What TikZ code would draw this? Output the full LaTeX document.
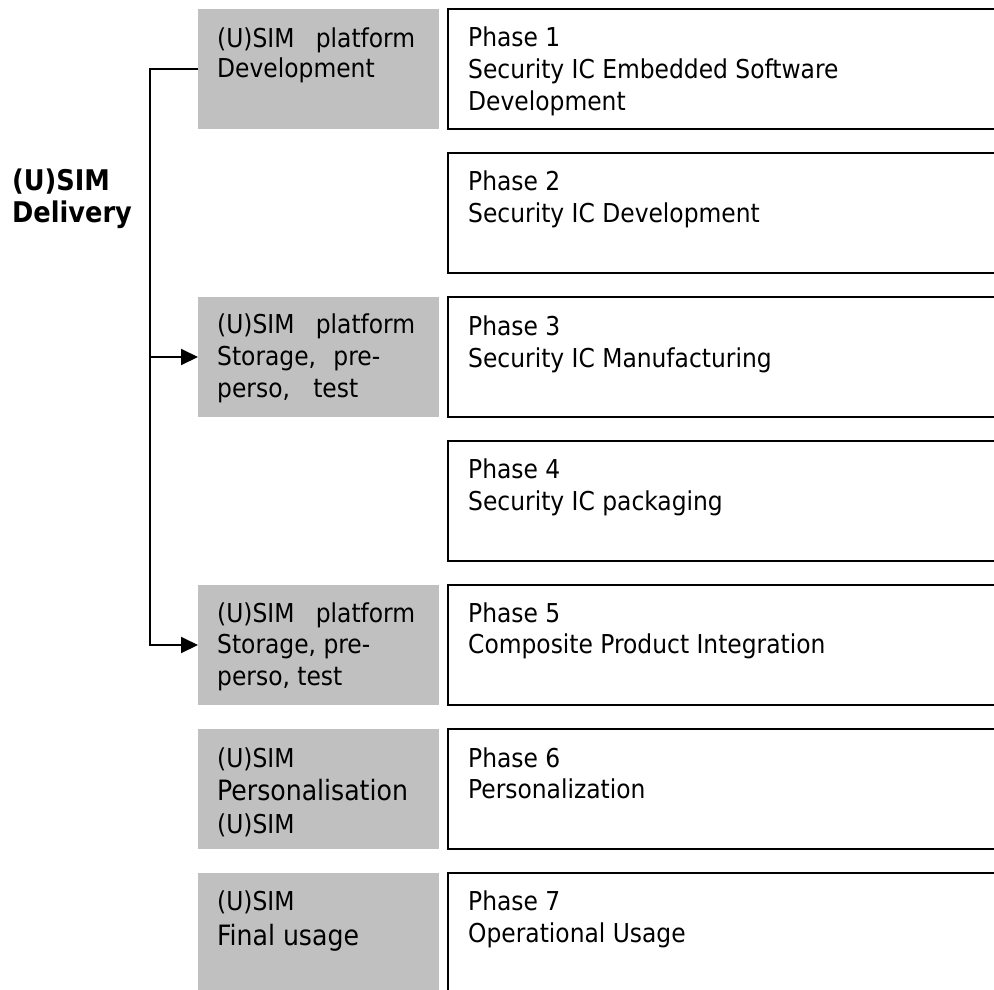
\documentclass[tikz,border=0pt]{standalone}
\usepackage{fontspec}
\setmainfont{DejaVu Sans Condensed}
\usetikzlibrary{arrows.meta}
\definecolor{boxgray}{RGB}{192,192,192}
\begin{document}
\begin{tikzpicture}[x=1pt,y=-1pt,
  graybox/.style={fill=boxgray, draw=none, minimum width=241pt, minimum height=120pt, anchor=north west, inner sep=0pt, outer sep=0pt},
  phasebox/.style={draw=black, line width=2pt, minimum width=600pt, minimum height=120pt, anchor=north west, inner sep=0pt, outer sep=0pt},
  txt/.style={anchor=base west, inner sep=0pt, font=\fontsize{26}{30}\selectfont},
  bigtxt/.style={anchor=base west, inner sep=0pt, font=\fontsize{28}{32}\selectfont},
  headtxt/.style={anchor=base west, inner sep=0pt, font=\fontsize{28.5}{32}\selectfont\bfseries},
  conn/.style={draw=black, line width=2pt},
  tip/.style={-{Triangle[length=17pt,width=16pt]}}
]
\clip (0,0) rectangle (994,989);
\fill[white] (0,0) rectangle (994,989);

% gray boxes
\node[graybox] (g1) at (198,9) {};
\node[graybox] (g3) at (198,297) {};
\node[graybox] (g5) at (198,585) {};
\node[graybox] (g6) at (198,729) {};
\node[graybox] (g7) at (198,873) {};

% phase boxes
\node[phasebox] (p1) at (448,9) {};
\node[phasebox] (p2) at (448,153) {};
\node[phasebox] (p3) at (448,297) {};
\node[phasebox] (p4) at (448,441) {};
\node[phasebox] (p5) at (448,585) {};
\node[phasebox] (p6) at (448,729) {};
\node[phasebox] (p7) at (448,873) {};

% left heading
\node[headtxt] (h1) at (12,190) {(U)SIM};
\node[headtxt] (h2) at (12,222) {Delivery};

% gray box texts
\node[txt] (g1a) at (217,47) {\makebox[198pt][s]{(U)SIM platform}};
\node[txt] (g1b) at (217,77) {Development};

\node[txt] (g3a) at (217,333) {\makebox[198pt][s]{(U)SIM platform}};
\node[txt] (g3b) at (217,365) {\makebox[163pt][s]{Storage, pre-}};
\node[txt] (g3c) at (217,397) {\makebox[141pt][s]{perso, test}};

\node[txt] (g5a) at (217,622) {\makebox[198pt][s]{(U)SIM platform}};
\node[txt] (g5b) at (217,653) {Storage, pre-};
\node[txt] (g5c) at (217,685) {perso, test};

\node[txt] (g6a) at (217,767) {(U)SIM};
\node[bigtxt] (g6b) at (217,800) {Personalisation};
\node[txt] (g6c) at (217,833) {(U)SIM};

\node[txt] (g7a) at (217,910) {(U)SIM};
\node[bigtxt] (g7b) at (217,945) {Final usage};

% phase texts
\node[txt] (t1a) at (468,46) {Phase 1};
\node[txt] (t1b) at (468,78) {Security IC Embedded Software};
\node[txt] (t1c) at (468,110) {Development};

\node[txt] (t2a) at (468,190) {Phase 2};
\node[txt] (t2b) at (468,222) {Security IC Development};

\node[txt] (t3a) at (468,335) {Phase 3};
\node[txt] (t3b) at (468,367) {Security IC Manufacturing};

\node[txt] (t4a) at (468,478) {Phase 4};
\node[txt] (t4b) at (468,510) {Security IC packaging};

\node[txt] (t5a) at (468,622) {Phase 5};
\node[txt] (t5b) at (468,653) {Composite Product Integration};

\node[txt] (t6a) at (468,767) {Phase 6};
\node[txt] (t6b) at (468,798) {Personalization};

\node[txt] (t7a) at (468,910) {Phase 7};
\node[txt] (t7b) at (468,942) {Operational Usage};

% connectors
\coordinate (trunk) at (150,0);
\draw[conn, tip] (g1.west) -- (g1.west -| trunk) -- (g5.west -| trunk) -- (g5.west);
\draw[conn, tip] (g3.west -| trunk) -- (g3.west);
\end{tikzpicture}
\end{document}
